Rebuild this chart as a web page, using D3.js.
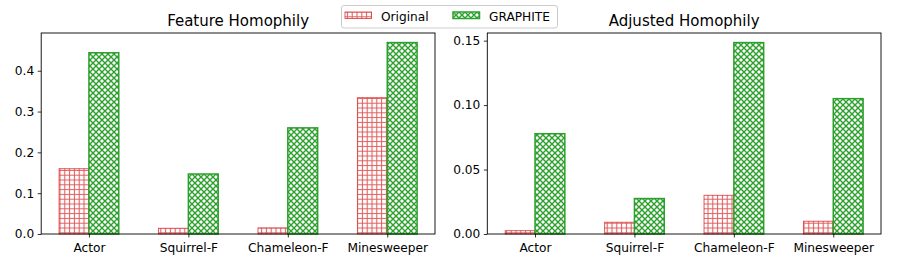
<!DOCTYPE html>
<html>
<head>
<meta charset="utf-8">
<script src="https://cdn.jsdelivr.net/npm/d3@7"></script>
<style>
  body { margin: 0; background: #fff; }
  svg text { font-family: "DejaVu Sans", sans-serif; fill: #000; }
</style>
</head>
<body>
<svg id="chart"></svg>
<script>
// データ
const categories = ["Actor", "Squirrel-F", "Chameleon-F", "Minesweeper"];
const featureOriginal = [0.160, 0.014, 0.015, 0.334];
const featureGraphite = [0.444, 0.147, 0.260, 0.469];
const adjustedOriginal = [0.0026, 0.0091, 0.0300, 0.0099];
const adjustedGraphite = [0.0778, 0.0275, 0.1485, 0.1050];
const featureTicks = [0.0, 0.1, 0.2, 0.3, 0.4];
const adjustedTicks = [0.00, 0.05, 0.10, 0.15];
const seriesNames = ["Original", "GRAPHITE"];

const width = 897;
const height = 269;
const red = "#d62728";
const green = "#2ca02c";

var svg = d3.select("#chart")
            .attr("width", width)
            .attr("height", height);

// ハッチング模様
var defs = svg.append("defs");
var grid = defs.append("pattern")
    .attr("id", "hatchGrid")
    .attr("patternUnits", "userSpaceOnUse")
    .attr("width", 4.8).attr("height", 4.8);
grid.append("rect").attr("width", 4.8).attr("height", 4.8).attr("fill", "#fff");
grid.append("path")
    .attr("d", "M0,2.4H4.8M2.4,0V4.8")
    .attr("stroke", red).attr("stroke-opacity", 0.75).attr("stroke-width", 1.1);

var cross = defs.append("pattern")
    .attr("id", "hatchCross")
    .attr("patternUnits", "userSpaceOnUse")
    .attr("width", 6).attr("height", 6);
cross.append("rect").attr("width", 6).attr("height", 6).attr("fill", "#fff");
cross.append("path")
    .attr("d", "M-1,-1L7,7M-1,7L7,-1")
    .attr("stroke", green).attr("stroke-width", 1.4);

function drawPanel(left, right, title, original, graphite, ticks, fmt) {
    const top = 33, bottom = 234;
    var x = d3.scaleLinear().domain([-0.48, 3.48]).range([left, right]);
    var y = d3.scaleLinear()
              .domain([0, d3.max(original.concat(graphite)) * 1.05])
              .range([bottom, top]);
    const bw = x(0.3) - x(0);
    var g = svg.append("g");

    g.selectAll("rect.orig")
     .data(original)
     .enter().append("rect")
     .attr("class", "orig")
     .attr("x", function(d, i) { return x(i - 0.3); })
     .attr("y", function(d) { return y(d); })
     .attr("width", bw)
     .attr("height", function(d) { return bottom - y(d); })
     .attr("fill", "url(#hatchGrid)")
     .attr("stroke", red).attr("stroke-opacity", 0.75).attr("stroke-width", 1);

    g.selectAll("rect.graph")
     .data(graphite)
     .enter().append("rect")
     .attr("class", "graph")
     .attr("x", function(d, i) { return x(i); })
     .attr("y", function(d) { return y(d); })
     .attr("width", bw)
     .attr("height", function(d) { return bottom - y(d); })
     .attr("fill", "url(#hatchCross)")
     .attr("stroke", green).attr("stroke-width", 1.5);

    // 軸
    var yAxis = g.append("g")
        .attr("transform", "translate(" + left + ",0)")
        .call(d3.axisLeft(y).tickValues(ticks).tickFormat(d3.format(fmt))
              .tickSize(3.5).tickPadding(3.5));
    var xAxis = g.append("g")
        .attr("transform", "translate(0," + bottom + ")")
        .call(d3.axisBottom(x).tickValues(d3.range(categories.length))
              .tickFormat(function(i) { return categories[i]; })
              .tickSize(3.5).tickPadding(5.5));
    [xAxis, yAxis].forEach(function(a) {
        a.select(".domain").remove();
        a.selectAll("text").attr("font-size", 12.2).attr("font-family", "DejaVu Sans");
        a.selectAll("line").attr("stroke", "#000").attr("stroke-width", 0.8);
    });

    g.append("rect")
     .attr("x", left).attr("y", top)
     .attr("width", right - left).attr("height", bottom - top)
     .attr("fill", "none").attr("stroke", "#000").attr("stroke-width", 0.9);

    g.append("text")
     .attr("x", (left + right) / 2).attr("y", 26)
     .attr("text-anchor", "middle")
     .attr("font-size", 15)
     .text(title);
}

drawPanel(41.2, 435, "Feature Homophily", featureOriginal, featureGraphite, featureTicks, ".1f");
drawPanel(487.3, 881, "Adjusted Homophily", adjustedOriginal, adjustedGraphite, adjustedTicks, ".2f");

// 凡例
var legend = svg.append("g");
legend.append("rect")
    .attr("x", 341.5).attr("y", 5.5)
    .attr("width", 216).attr("height", 22.5)
    .attr("rx", 2.5)
    .attr("fill", "#fff").attr("fill-opacity", 0.8)
    .attr("stroke", "#ccc").attr("stroke-width", 1);
var items = legend.selectAll("g.item")
    .data(seriesNames)
    .enter().append("g")
    .attr("class", "item")
    .attr("transform", function(d, i) { return "translate(" + [345, 453][i] + ",0)"; });
items.append("rect")
    .attr("x", 0).attr("y", 12)
    .attr("width", 26.5).attr("height", 6.5)
    .attr("fill", function(d, i) { return i ? "url(#hatchCross)" : "url(#hatchGrid)"; })
    .attr("stroke", function(d, i) { return i ? green : red; })
    .attr("stroke-opacity", function(d, i) { return i ? 1 : 0.75; })
    .attr("stroke-width", function(d, i) { return i ? 1.5 : 1; });
items.append("text")
    .attr("x", 36).attr("y", 20.5)
    .attr("font-size", 12.2)
    .text(function(d) { return d; });
</script>
</body>
</html>
